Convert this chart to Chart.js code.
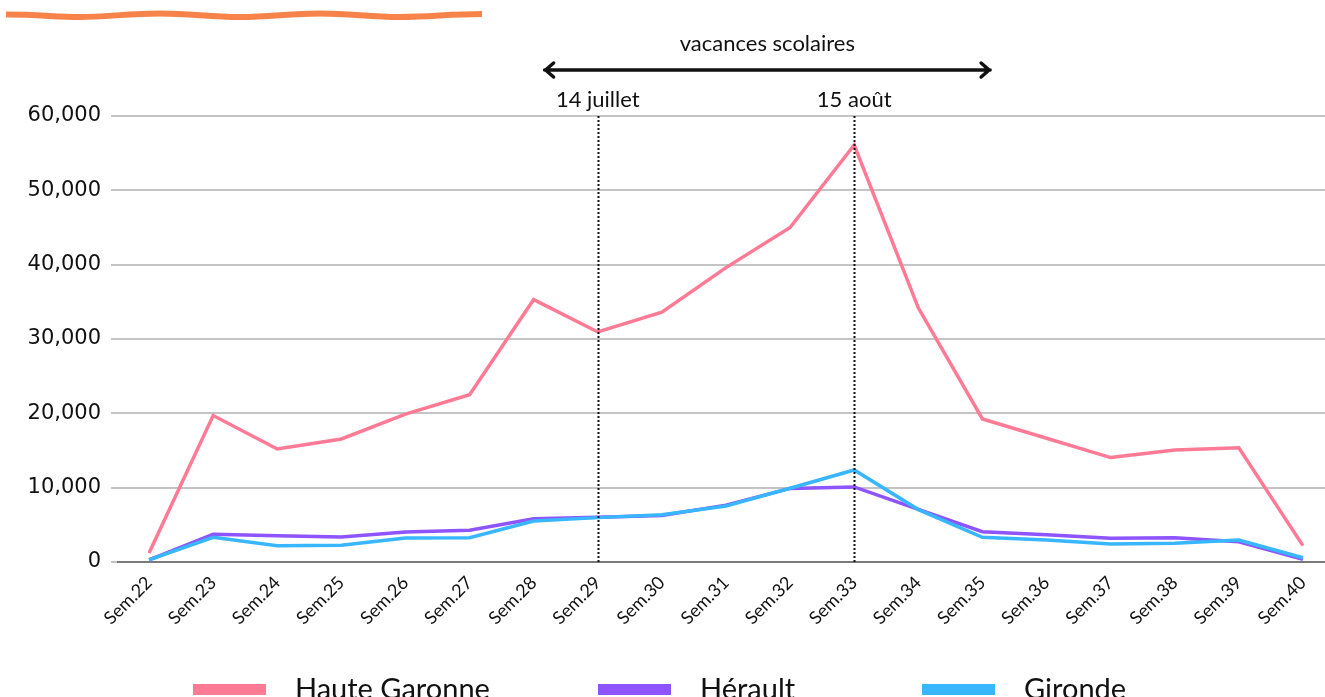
<!DOCTYPE html>
<html>
<head>
<meta charset="utf-8">
<script src="https://cdn.jsdelivr.net/npm/chart.js@4.4.0/dist/chart.umd.min.js"></script>
<style>
    html, body { margin: 0; padding: 0; background: #fff; overflow: hidden; width: 1325px; height: 697px; }
    #wrap { position: relative; width: 1336px; height: 697px; }
    #wave { position: absolute; left: 0; top: 0; }
</style>
</head>
<body>
<div id="wrap">
    <svg id="wave" width="500" height="30">
        <path d="M6 14.5 C 40 14.5, 55 17, 80 17 S 130 13.5, 160 13.5 S 210 17, 240 17 S 290 13.5, 320 13.5 S 370 17, 400 17 S 450 14, 482 14"
              fill="none" stroke="#f7834a" stroke-width="6"/>
    </svg>
    <canvas id="weeksChart" width="1336" height="697"></canvas>
</div>
<script>
// ===== DATA =====
const weeks = ['Sem.22', 'Sem.23', 'Sem.24', 'Sem.25', 'Sem.26', 'Sem.27', 'Sem.28', 'Sem.29', 'Sem.30', 'Sem.31',
    'Sem.32', 'Sem.33', 'Sem.34', 'Sem.35', 'Sem.36', 'Sem.37', 'Sem.38', 'Sem.39', 'Sem.40'];

const hauteGaronne = [1200, 19700, 15200, 16550, 19900, 22500, 35300, 30950, 33600, 39600,
    45000, 56100, 34200, 19250, 16650, 14050, 15070, 15380, 2200];
const herault = [300, 3730, 3540, 3360, 4040, 4260, 5830, 6010, 6250, 7650,
    9900, 10100, 7090, 4080, 3680, 3190, 3270, 2730, 360];
const gironde = [300, 3320, 2200, 2250, 3230, 3270, 5520, 5970, 6350, 7540,
    9920, 12380, 7050, 3320, 2960, 2420, 2510, 2960, 580];

const yTicks = [0, 10000, 20000, 30000, 40000, 50000, 60000];

const markerWeeks = ['Sem.29', 'Sem.33'];
const markerLabels = ['14 juillet', '15 août'];
const holidayLabel = 'vacances scolaires';
const holidaySpan = [6.17, 13.12]; // fractional week index

// ===== PLUGINS =====
const annotations = {
    id: 'annotations',
    afterDatasetsDraw(chart) {
        const { ctx, scales: { x, y } } = chart;
        ctx.save();

        // dotted vertical markers
        ctx.strokeStyle = '#111';
        ctx.lineWidth = 2;
        ctx.setLineDash([2, 2]);
        markerWeeks.forEach(w => {
            const px = Math.round(x.getPixelForValue(weeks.indexOf(w))) + 0.5;
            ctx.beginPath();
            ctx.moveTo(px, y.getPixelForValue(60000));
            ctx.lineTo(px, y.getPixelForValue(0));
            ctx.stroke();
        });
        ctx.setLineDash([]);

        // marker labels
        ctx.fillStyle = '#111';
        ctx.font = '22px Lato';
        ctx.textAlign = 'center';
        ctx.textBaseline = 'alphabetic';
        markerWeeks.forEach((w, i) => {
            const px = x.getPixelForValue(weeks.indexOf(w));
            ctx.fillText(markerLabels[i], px, 107);
        });

        // holiday arrow
        const x1 = x.getPixelForValue(holidaySpan[0]);
        const x2 = x.getPixelForValue(holidaySpan[1]);
        const ay = 70;
        ctx.lineWidth = 3.5;
        ctx.lineCap = 'round';
        ctx.lineJoin = 'round';
        ctx.beginPath();
        ctx.moveTo(x1, ay);
        ctx.lineTo(x2, ay);
        ctx.moveTo(x1 + 9, ay - 7);
        ctx.lineTo(x1 + 1, ay);
        ctx.lineTo(x1 + 9, ay + 7);
        ctx.moveTo(x2 - 9, ay - 7);
        ctx.lineTo(x2 - 1, ay);
        ctx.lineTo(x2 - 9, ay + 7);
        ctx.stroke();

        ctx.fillText(holidayLabel, (x1 + x2) / 2, 51);
        ctx.restore();
    }
};

const bottomLegend = {
    id: 'bottomLegend',
    afterDraw(chart) {
        const ctx = chart.ctx;
        const starts = [193, 598, 922];
        ctx.save();
        ctx.font = '29px Lato';
        ctx.textBaseline = 'alphabetic';
        ctx.textAlign = 'left';
        chart.data.datasets.forEach((ds, i) => {
            ctx.fillStyle = ds.borderColor;
            ctx.fillRect(starts[i], 684, 73, 11);
            ctx.fillStyle = '#111';
            ctx.fillText(ds.label, starts[i] + 102, 699);
        });
        ctx.restore();
    }
};

// ===== CHART =====
const ctx = document.getElementById('weeksChart');

new Chart(ctx, {
    type: 'line',
    data: {
        labels: weeks,
        datasets: [{
            label: 'Haute Garonne',
            data: hauteGaronne,
            borderColor: '#ff7b95',
            borderWidth: 3.5,
            pointRadius: 0,
            tension: 0,
            order: 2
        }, {
            label: 'Hérault',
            data: herault,
            borderColor: '#8e54ff',
            borderWidth: 3.5,
            pointRadius: 0,
            tension: 0,
            order: 1
        }, {
            label: 'Gironde',
            data: gironde,
            borderColor: '#38b6ff',
            borderWidth: 3.5,
            pointRadius: 0,
            tension: 0,
            order: 0
        }]
    },
    options: {
        responsive: false,
        animation: false,
        layout: { padding: { top: 116, right: 1, left: 0, bottom: 0 } },
        plugins: {
            legend: { display: false },
            tooltip: { enabled: false }
        },
        scales: {
            x: {
                offset: true,
                afterFit: axis => { axis.height = 135; },
                ticks: {
                    minRotation: 45,
                    maxRotation: 45,
                    autoSkip: false,
                    color: '#111',
                    padding: 2,
                    font: { family: 'Lato', size: 18 }
                },
                grid: { display: false },
                border: { display: false }
            },
            y: {
                min: 0,
                max: 60000,
                afterFit: axis => { axis.width = 117; },
                afterBuildTicks: axis => { axis.ticks = yTicks.map(v => ({ value: v })); },
                ticks: {
                    color: '#111',
                    padding: 10,
                    font: { family: 'DejaVu Sans', size: 21 },
                    callback: v => v.toLocaleString('en-US')
                },
                grid: {
                    color: ctx => ctx.tick.value === 0 ? '#7a7a7a' : '#c4c4c4',
                    lineWidth: 2,
                    tickLength: 6,
                    tickColor: '#c4c4c4'
                },
                border: { display: false }
            }
        }
    },
    plugins: [annotations, bottomLegend]
});
</script>
</body>
</html>
